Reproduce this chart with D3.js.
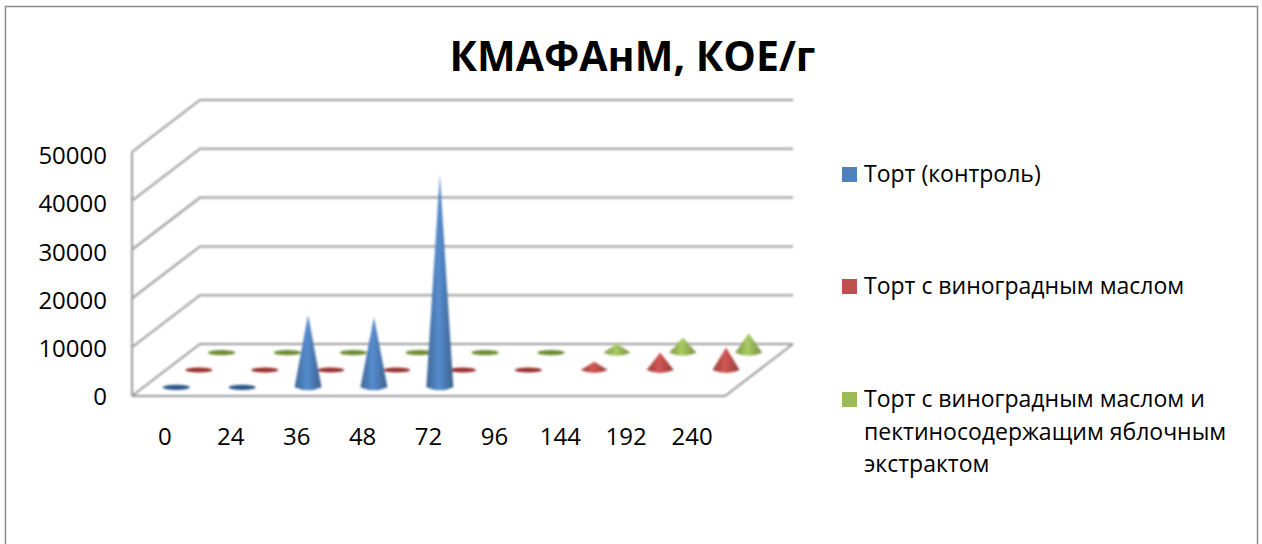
<!DOCTYPE html>
<html lang="en">

<head>
    <meta charset="UTF-8">
    <title>КМАФАнМ, КОЕ/г</title>
    <script src="https://d3js.org/d3.v7.min.js"></script>
    <style>
        html, body { margin: 0; padding: 0; background: #fff; overflow: hidden; }
        text { font-family: "Open Sans", sans-serif; fill: #000; }
    </style>
</head>

<body>
    <div id="chart"></div>

    <script>
        const categories = ["0", "24", "36", "48", "72", "96", "144", "192", "240"];
        const yTicks = [0, 10000, 20000, 30000, 40000, 50000];
        const seriesNames = ["Торт (контроль)", "Торт с виноградным маслом", "Торт с виноградным маслом и пектиносодержащим яблочным экстрактом"];
        const control = [0, 0, 14800, 14400, 43600, null, null, null, null];
        const grapeOil = [0, 0, 0, 0, 0, 0, 1700, 3600, 4600];
        const grapeOilPectin = [0, 0, 0, 0, 0, 0, 1900, 3100, 4000];
        const colors = ["#4f81bd", "#c0504d", "#9bbb59"];
        const darkColors = ["#2c5688", "#96302e", "#6f8c35"];

        const width = 1262;
        const height = 544;
        const floorDepth = { dx: 68, dy: -52 };

        const svg = d3.select("#chart").append("svg")
            .attr("width", width)
            .attr("height", height)
            .style("display", "block");

        const defs = svg.append("defs");
        defs.append("filter").attr("id", "soft")
            .attr("x", "-20%").attr("y", "-20%").attr("width", "140%").attr("height", "140%")
            .append("feGaussianBlur").attr("stdDeviation", 0.8);

        colors.forEach((c, i) => {
            const grad = defs.append("linearGradient").attr("id", `cone${i}`);
            grad.append("stop").attr("offset", "0%").attr("stop-color", d3.color(c).darker(0.7));
            grad.append("stop").attr("offset", "45%").attr("stop-color", d3.color(c).brighter(0.25));
            grad.append("stop").attr("offset", "100%").attr("stop-color", d3.color(c).darker(0.8));
        });

        // chart border, the bottom edge runs off the picture
        svg.append("rect")
            .attr("x", 5.5).attr("y", 6.5)
            .attr("width", 1252).attr("height", 560)
            .attr("fill", "none").attr("stroke", "#8c8c8c").attr("stroke-width", 1.5);

        const xScale = d3.scaleBand().domain(categories).range([132, 725]);
        const depthScale = d3.scaleBand().domain(d3.range(3)).range([0, 1]);
        const yScale = d3.scaleLinear().domain([0, 50000]).range([396, 152]);
        const yLabelScale = d3.scaleLinear().domain([0, 50000]).range([397, 156]);

        // walls and floor
        const grid = svg.append("g")
            .attr("filter", "url(#soft)")
            .attr("fill", "none")
            .attr("stroke", "#989898")
            .attr("stroke-width", 2);

        yTicks.forEach(v => {
            const y = yScale(v);
            grid.append("polyline").attr("points", [
                [132, y],
                [132 + floorDepth.dx, y + floorDepth.dy],
                [725 + floorDepth.dx, y + floorDepth.dy]
            ].join(" "));
        });
        grid.append("line").attr("x1", 132).attr("x2", 132).attr("y1", yScale(50000)).attr("y2", yScale(0));
        grid.append("polyline").attr("points", [
            [132, yScale(0)],
            [725, yScale(0)],
            [725 + floorDepth.dx, yScale(0) + floorDepth.dy]
        ].join(" "));

        // cones, back row first so the front row covers it
        const rx = 13.5;
        const ry = 3;

        function conePath(cx, cy, h) {
            const p = d3.path();
            p.moveTo(cx - rx, cy);
            p.lineTo(cx, cy - h);
            p.lineTo(cx + rx, cy);
            p.quadraticCurveTo(cx, cy + ry * 2, cx - rx, cy);
            p.closePath();
            return p.toString();
        }

        const marks = svg.append("g").attr("filter", "url(#soft)");

        [grapeOilPectin, grapeOil, control].forEach((values, k) => {
            const s = 2 - k;
            const t = depthScale(s) + depthScale.bandwidth() / 2;
            const rows = categories.map((c, i) => ({ c, v: values[i] })).filter(d => d.v !== null);
            const cx = d => xScale(d.c) + xScale.bandwidth() / 2 + t * floorDepth.dx;
            const cy = yScale(0) + t * floorDepth.dy;

            marks.append("g").selectAll("ellipse")
                .data(rows.filter(d => d.v === 0))
                .join("ellipse")
                .attr("cx", cx)
                .attr("cy", cy)
                .attr("rx", rx)
                .attr("ry", 2.6)
                .attr("fill", darkColors[s]);

            marks.append("g").selectAll("path")
                .data(rows.filter(d => d.v > 0))
                .join("path")
                .attr("d", d => conePath(cx(d), cy, yScale(0) - yScale(d.v)))
                .attr("fill", `url(#cone${s})`);
        });

        // axes
        const yAxis = svg.append("g")
            .attr("transform", "translate(107,0)")
            .call(d3.axisLeft(yLabelScale).tickValues(yTicks).tickFormat(d3.format("d")).tickSize(0).tickPadding(0));
        const xAxis = svg.append("g")
            .attr("transform", "translate(0,428)")
            .call(d3.axisBottom(xScale).tickSize(0).tickPadding(0));
        [yAxis, xAxis].forEach(a => {
            a.select(".domain").remove();
            a.selectAll("text").style("font-family", '"Open Sans", sans-serif').style("font-size", "24px").attr("fill", "#000");
        });

        // title
        svg.append("text")
            .attr("x", 632.5).attr("y", 71)
            .attr("text-anchor", "middle")
            .style("font-size", "41px")
            .style("font-weight", 700)
            .text("КМАФАнМ, КОЕ/г");

        // legend
        const legendRows = [
            { top: 167, lines: [seriesNames[0]] },
            { top: 279, lines: [seriesNames[1]] },
            { top: 392, lines: ["Торт с виноградным маслом и", "пектиносодержащим яблочным", "экстрактом"] }
        ];
        const legend = svg.append("g");
        legendRows.forEach((row, i) => {
            legend.append("rect")
                .attr("x", 842).attr("y", row.top)
                .attr("width", 15).attr("height", 15)
                .attr("fill", colors[i]);
            row.lines.forEach((line, j) => {
                legend.append("text")
                    .attr("x", 864).attr("y", row.top + 15 + j * 32.5)
                    .style("font-size", "23px")
                    .text(line);
            });
        });
    </script>
</body>

</html>
